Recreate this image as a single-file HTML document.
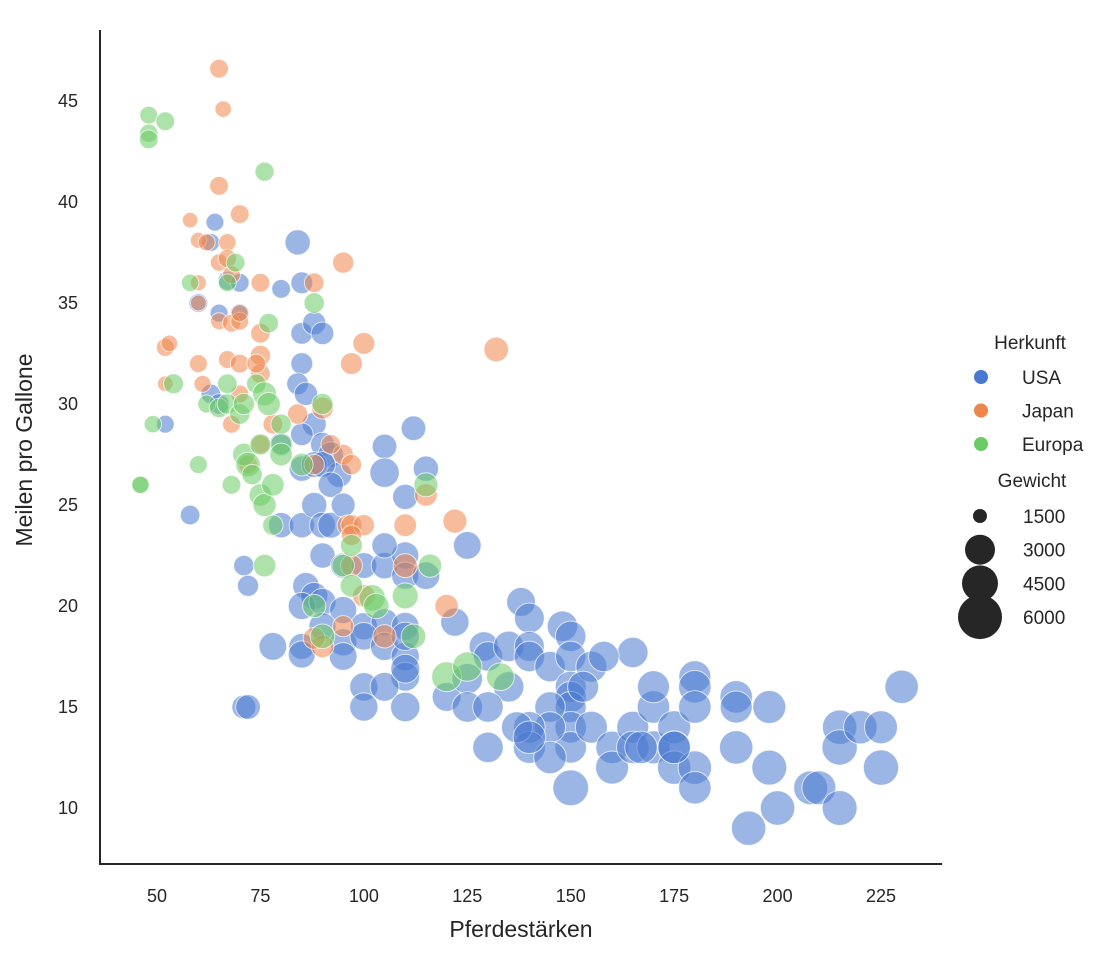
<!DOCTYPE html>
<html><head><meta charset="utf-8"><style>
body{margin:0;background:#fff;width:1120px;height:960px;overflow:hidden}
text{font-family:"Liberation Sans",sans-serif;fill:#262626}
</style></head><body>
<svg id="chart" width="1120" height="960" xmlns="http://www.w3.org/2000/svg">
<g id="marks"></g>
<g id="axes"></g>
<g id="legend"></g>
</svg>
<script>
const xTicks=[50,75,100,125,150,175,200,225];
const yTicks=[10,15,20,25,30,35,40,45];
const origins=["USA","Japan","Europa"];
const originColors=["#4878d0","#ee854a","#6acc64"];
const sizeLegend=[1500,3000,4500,6000];
// [hp, mpg, weight]
const europe=[[48,44.3,2000],[48,43.4,2050],[48,43.1,2100],[52,44,2100],[46,26,1900],[46,26,1950],[49,29,1950],[54,31,2250],[60,27,2000],[76,41.5,2150],[69,37,2100],[67,36,2000],[58,36,1950],[62,30,2000],[65,29.8,2200],[67,30,2300],[70,29.5,2300],[71,27.5,2600],[72,27,2900],[75,25.5,2600],[76,25,2700],[78,24,2300],[78,26,2600],[74,31,2200],[76,30.5,2800],[77,34,2200],[80,29,2300],[88,35,2300],[90,30,2400],[95,22,2600],[97,23,2500],[102,20.4,3200],[103,20,3000],[110,20.5,3100],[115,26,2800],[116,22,2700],[120,16.5,3800],[125,17,3700],[133,16.5,3400],[76,22,2600],[67,31,2200],[71,30,2400],[80,28,2400],[85,27,2600],[90,18.5,2900],[88,20,2700],[97,21,2600],[112,18.5,2900],[68,26,2100],[73,26.5,2300],[75,28,2400],[77,30,2700],[80,27.5,2600]];
const japan=[[65,46.6,2100],[66,44.6,1850],[65,40.8,2100],[70,39.4,2100],[58,39.1,1750],[60,38.1,1800],[62,38,1900],[67,38,1950],[65,37,1950],[67,37.2,2050],[68,36.4,2000],[75,36,2100],[88,36,2200],[95,37,2400],[60,36,1800],[60,35,1800],[65,34.1,1900],[68,34,2000],[70,34.1,2000],[70,34.5,1900],[75,33.5,2200],[75,32.4,2300],[52,32.8,2000],[53,33,1850],[60,32,2000],[67,32.2,2000],[70,32,2100],[75,31.5,2200],[74,32,2100],[97,32,2500],[100,33,2500],[132,32.7,2900],[52,31,1750],[61,31,1900],[70,30.5,2000],[78,29,2200],[84,29.5,2300],[90,29.8,2500],[95,27.5,2300],[97,27,2300],[92,28,2200],[88,27,2300],[96,24,2300],[97,24,2400],[100,24,2400],[97,23.5,2300],[110,24,2600],[115,25.5,2600],[122,24.2,2800],[120,20,2700],[95,19,2400],[100,20.5,2600],[105,18.5,2700],[90,18,2600],[88,18.4,2500],[97,22,2500],[110,22,2800],[75,28,2100],[68,29,2000],[72,27,2100]];
const usa=[[64,39,2000],[63,38,2000],[67,36.1,2100],[70,36,2100],[60,35,2100],[65,34.5,2000],[70,34.5,2100],[63,30.5,2200],[65,30,2300],[52,29,2000],[58,24.5,2200],[71,22,2300],[72,21,2400],[71,15,2800],[72,15,2900],[84,38,3000],[85,36,2500],[80,35.7,2100],[85,33.5,2500],[88,34,2700],[90,33.5,2600],[85,32,2500],[84,31,2500],[86,30.5,2700],[88,29,2800],[85,28.5,2600],[80,28,2700],[90,28,2800],[92,27.5,3000],[94,26.5,3000],[85,26.8,3000],[88,27,3100],[90,27,3100],[92,26,3000],[80,24,3000],[85,24,3000],[88,25,3000],[90,24,3100],[92,24,3100],[95,25,2800],[90,22.5,3000],[95,22,3000],[100,22,3100],[105,22,3200],[110,22.5,3300],[110,21.5,3300],[86,21,3200],[88,20.5,3300],[85,20,3300],[90,20.2,3300],[95,19.8,3300],[100,19,3300],[105,19.2,3300],[110,19,3400],[115,21.5,3400],[85,18,3100],[90,19,3300],[95,18.2,3300],[100,18.5,3400],[105,18,3500],[110,17.5,3500],[110,18.5,3500],[110,16.5,3600],[100,16,3500],[105,16,3600],[110,16.9,3600],[100,15,3500],[110,15,3700],[78,18,3400],[85,17.6,3300],[95,17.5,3400],[105,27.9,2900],[105,26.6,3700],[110,25.4,3000],[112,28.8,2900],[115,26.8,3000],[105,23,3000],[125,23,3400],[122,19.2,3500],[120,15.5,3600],[125,16.4,3900],[129,18,3700],[130,17.5,3700],[130,13,3900],[125,15,3900],[135,18,3900],[138,20.2,3600],[140,19.4,3800],[140,18,3800],[140,17.5,3900],[145,17,3900],[148,19,3900],[150,18.5,3900],[150,17.5,3900],[150,16,4000],[150,15.5,4000],[150,15,4000],[150,14,4100],[150,13,4100],[145,15,3900],[145,14,4000],[140,14,4100],[140,13,4200],[137,14,4000],[135,16,3900],[155,17,4000],[155,14,4200],[160,13,4300],[160,12,4400],[165,17.7,3900],[165,14,4200],[165,13,4300],[170,15,4300],[170,16,4200],[170,13,4400],[175,14,4400],[175,13,4400],[175,12,4500],[180,16.5,4200],[180,16,4300],[180,12,4500],[180,11,4300],[145,12.5,4300],[150,11,5000],[140,13.5,4300],[190,15.5,4300],[190,15,4200],[190,13,4500],[198,15,4400],[198,12,4800],[200,10,4700],[193,9,4700],[208,11,4600],[210,11,4600],[215,14,4700],[215,13,4900],[215,10,4800],[220,14,4500],[225,14,4400],[225,12,4900],[230,16,4500],[130,15,3900],[153,16,4000],[158,17.5,3900],[167,13,4300],[175,13,4300],[180,15,4300]];
const seriesList=[usa,japan,europe];

const NS="http://www.w3.org/2000/svg";
const x0=100,x1=942,yTop=30,yBot=864;
function xScale(v){return 157+(v-50)*(881-157)/175;}
function yScale(v){return 808-(v-10)*(808-101)/35;}
function rScale(w){return 20*Math.sqrt(Math.max(w-1000,50)/5000);}
function mk(tag,attrs,parent){const e=document.createElementNS(NS,tag);for(const k in attrs)e.setAttribute(k,attrs[k]);parent.appendChild(e);return e;}

const marks=document.getElementById('marks');
const order=[0,1,2];
// draw in mixed order similar to source
const allPts=[];
seriesList.forEach((s,si)=>s.forEach(p=>allPts.push([p,si])));
allPts.forEach(([p,si])=>{
  const c=mk('circle',{cx:xScale(p[0]),cy:yScale(p[1]),r:rScale(p[2]),fill:originColors[si],'fill-opacity':0.55,stroke:'#fff','stroke-width':1,'stroke-opacity':0.7},marks);
  
  
});

const axes=document.getElementById('axes');
const ls=mk('line',{x1:x0,y1:yTop,x2:x0,y2:yBot,stroke:'#262626','stroke-width':2},axes);


const bs=mk('line',{x1:x0-1,y1:yBot,x2:x1,y2:yBot,stroke:'#262626','stroke-width':2},axes);


xTicks.forEach(t=>{
  const e=mk('text',{x:xScale(t),y:902,'text-anchor':'middle','font-size':18},axes);
  e.textContent=t;
  
  
});
yTicks.forEach(t=>{
  const e=mk('text',{x:78,y:yScale(t)+6,'text-anchor':'end','font-size':18},axes);
  e.textContent=t;
  
  
});
const xl=mk('text',{x:521,y:937,'text-anchor':'middle','font-size':23},axes);
xl.textContent='Pferdestärken';


const yl=mk('text',{x:32,y:450,'text-anchor':'middle','font-size':23,transform:'rotate(-90 32 450)'},axes);
yl.textContent='Meilen pro Gallone';



const lg=document.getElementById('legend');
const t1=mk('text',{x:1030,y:349,'text-anchor':'middle','font-size':19},lg);
t1.textContent='Herkunft';


origins.forEach((o,i)=>{
  const y=377+i*33.5;
  const c=mk('circle',{cx:981,cy:y,r:7,fill:originColors[i]},lg);
  
  
  const t=mk('text',{x:1022,y:y+7,'font-size':19},lg);
  t.textContent=o;
  
  
});
const t2=mk('text',{x:1032,y:487,'text-anchor':'middle','font-size':19},lg);
t2.textContent='Gewicht';


const lr=[7,15,18,22];
sizeLegend.forEach((w,i)=>{
  const y=516+i*33.7;
  const c=mk('circle',{cx:980,cy:y,r:lr[i],fill:'#262626'},lg);
  
  
  const t=mk('text',{x:1023,y:y+7,'font-size':19},lg);
  t.textContent=w;
  
  
});
</script>
</body></html>
